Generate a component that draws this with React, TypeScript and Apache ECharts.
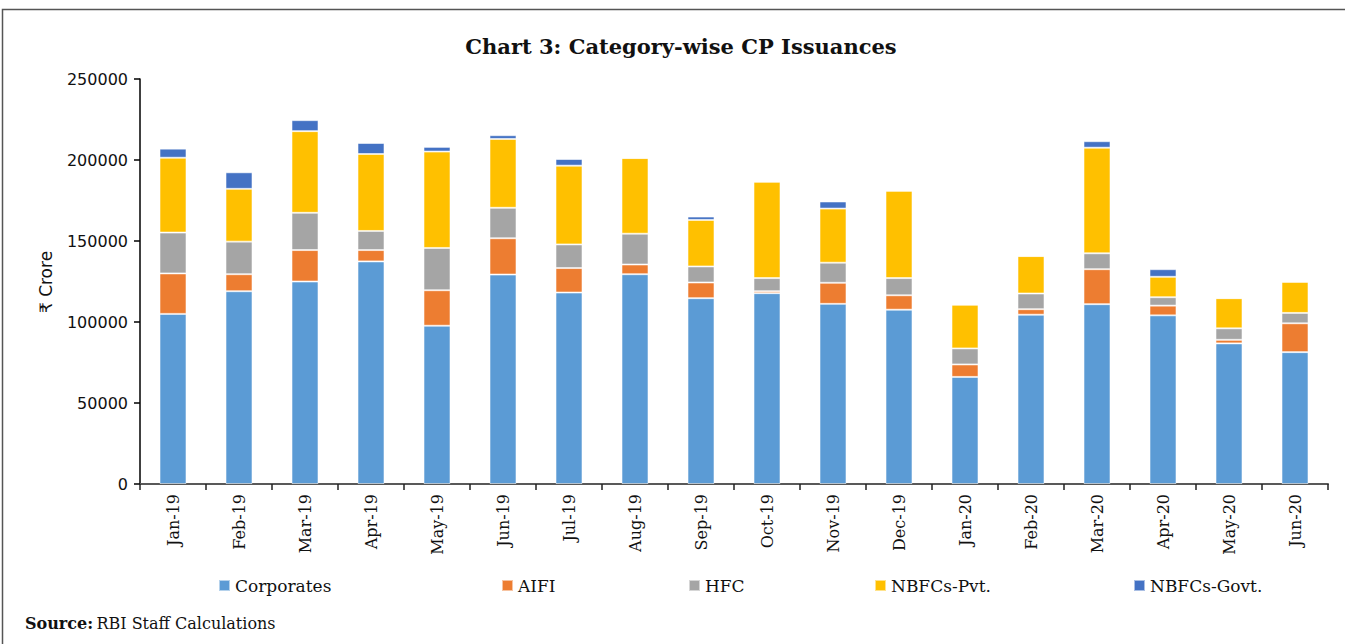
import React, { useEffect, useRef } from "react";
import * as echarts from "echarts";

const categories = [
  "Jan-19", "Feb-19", "Mar-19", "Apr-19", "May-19", "Jun-19", "Jul-19", "Aug-19", "Sep-19",
  "Oct-19", "Nov-19", "Dec-19", "Jan-20", "Feb-20", "Mar-20", "Apr-20", "May-20", "Jun-20",
];
const corporates = [105000, 119000, 125000, 137400, 97700, 129300, 118200, 129500, 114700, 117800, 111200, 107600, 66100, 104500, 111000, 104100, 86800, 81400];
const aifi = [25000, 10500, 19400, 7000, 21900, 22400, 15100, 6000, 9700, 1200, 13000, 8900, 7700, 3400, 21600, 6000, 2200, 17800];
const hfc = [25200, 20100, 23000, 11800, 26100, 18800, 14600, 19000, 9900, 8100, 12400, 10600, 9900, 9700, 9800, 5200, 7100, 6400];
const nbfcPvt = [46200, 32600, 50400, 47500, 59500, 42500, 48600, 46700, 28700, 59500, 33400, 53900, 27000, 23100, 65200, 12600, 18600, 19200];
const nbfcGovt = [5600, 10200, 6800, 6800, 2900, 2300, 4100, 0, 2100, 0, 4400, 0, 0, 0, 4000, 4700, 0, 0];
const yTicks = { min: 0, max: 250000, interval: 50000 };

const seriesDefs = [
  { name: "Corporates", data: corporates, color: "#5B9BD5", legendX: 213 },
  { name: "AIFI", data: aifi, color: "#ED7D31", legendX: 496 },
  { name: "HFC", data: hfc, color: "#A5A5A5", legendX: 683 },
  { name: "NBFCs-Pvt.", data: nbfcPvt, color: "#FFC000", legendX: 869 },
  { name: "NBFCs-Govt.", data: nbfcGovt, color: "#4472C4", legendX: 1128 },
];

export default function App() {
  const ref = useRef<HTMLDivElement>(null);
  useEffect(() => {
    if (!ref.current) return;
    const chart = echarts.init(ref.current, null, { renderer: "svg" });
    const serif = "DejaVu Serif";
    const sans = "DejaVu Sans";
    chart.setOption({
      animation: false,
      backgroundColor: "#ffffff",
      grid: { left: 140, right: 17, top: 79, bottom: 160, containLabel: false },
      legend: seriesDefs.map((s) => ({
        data: [s.name],
        left: s.legendX,
        top: 572,
        itemWidth: 11,
        itemHeight: 11,
        icon: "rect",
        selectedMode: false,
        textStyle: { fontFamily: serif, fontSize: 17, color: "#111" },
      })),
      xAxis: {
        type: "category",
        data: categories,
        axisLine: { lineStyle: { color: "#595959", width: 2 } },
        axisTick: { show: true, length: 6, lineStyle: { color: "#222", width: 1.5 } },
        axisLabel: { rotate: 90, margin: 10, fontFamily: serif, fontSize: 16, color: "#111" },
      },
      yAxis: {
        type: "value",
        min: yTicks.min,
        max: yTicks.max,
        interval: yTicks.interval,
        splitLine: { show: false },
        axisLine: { show: true, lineStyle: { color: "#000", width: 1.5 } },
        axisTick: { show: true, length: 6, lineStyle: { color: "#000", width: 1.5 } },
        axisLabel: {
          margin: 12,
          fontFamily: sans,
          fontSize: 16,
          color: "#111",
          formatter: (v: number) => String(v),
        },
      },
      series: seriesDefs.map((s) => ({
        name: s.name,
        type: "bar",
        stack: "total",
        barWidth: 27,
        data: s.data,
        itemStyle: { color: s.color, borderColor: "rgba(255,255,255,0.55)", borderWidth: 1 },
      })),
      graphic: [
        {
          type: "rect",
          silent: true,
          shape: { x: 2.5, y: 9.5, width: 1400, height: 700 },
          style: { fill: "none", stroke: "#555", lineWidth: 1.5 },
        },
        {
          type: "text",
          x: 681,
          y: 46,
          style: {
            text: "Chart 3: Category-wise CP Issuances",
            fontFamily: serif,
            fontWeight: "bold",
            fontSize: 21,
            fill: "#111",
            align: "center",
            verticalAlign: "middle",
          },
        },
        {
          type: "text",
          x: 46,
          y: 282,
          rotation: Math.PI / 2,
          style: {
            text: "₹ Crore",
            fontFamily: sans,
            fontSize: 17,
            fill: "#111",
            align: "center",
            verticalAlign: "middle",
          },
        },
        {
          type: "text",
          x: 25,
          y: 623,
          style: {
            text: "{b|Source:} {n|RBI Staff Calculations}",
            verticalAlign: "middle",
            rich: {
              b: { fontFamily: serif, fontWeight: "bold", fontSize: 16, fill: "#111" },
              n: { fontFamily: serif, fontSize: 16, fill: "#111" },
            },
          },
        },
      ],
    });
    return () => chart.dispose();
  }, []);
  return (
    <div
      ref={ref}
      style={{ position: "absolute", left: 0, top: 0, width: 1345, height: 644 }}
    />
  );
}
